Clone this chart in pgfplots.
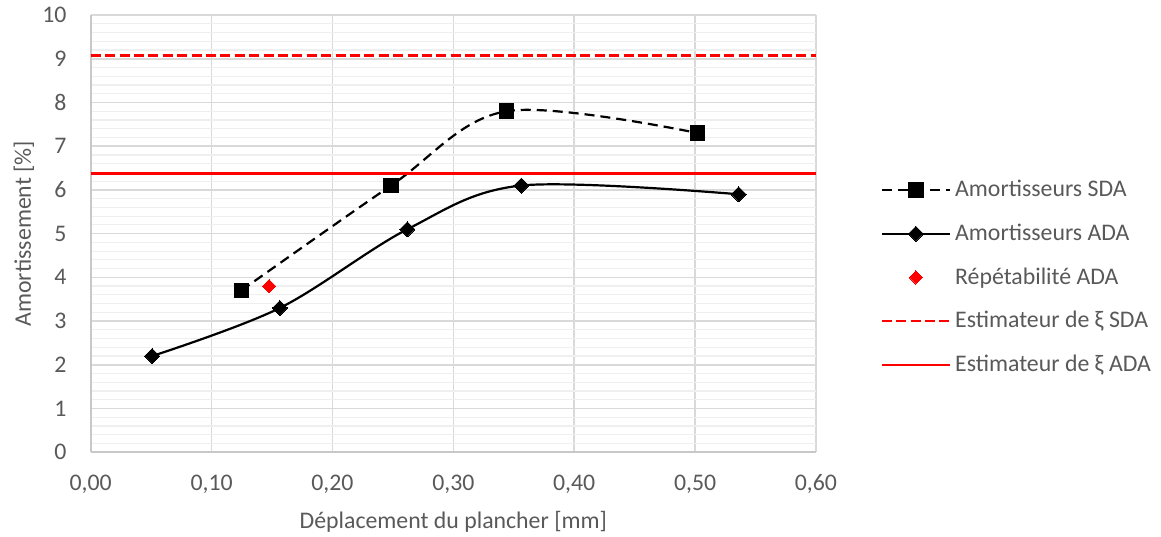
\documentclass[border=0pt]{standalone}
\usepackage{fontspec}
\setmainfont{Carlito}
\usepackage{pgfplots}
\pgfplotsset{compat=1.18}
\definecolor{txt}{HTML}{595959}
\definecolor{gridc}{HTML}{D9D9D9}
\definecolor{mgridc}{HTML}{EFEFEF}
\definecolor{axlc}{HTML}{C8C8C8}
\begin{document}
\begin{tikzpicture}[font=\fontsize{11.9pt}{14pt}\selectfont]
\begin{axis}[
  scale only axis, width=362.6pt, height=218.6pt,
  xmin=0, xmax=0.6, ymin=0, ymax=10,
  xtick={0,0.1,...,0.6}, ytick={0,1,...,10},
  minor y tick num=4,
  grid=both,
  major grid style={draw=gridc, line width=0.8pt},
  minor grid style={draw=mgridc, line width=0.6pt},
  axis line style={draw=axlc, line width=0.8pt},
  axis x line*=bottom, axis y line*=left,
  tick style={draw=none}, minor tick style={draw=none},
  ticklabel style={text=txt},
  /pgf/number format/assume math mode=true,
  xticklabel style={/pgf/number format/use comma, /pgf/number format/fixed, /pgf/number format/fixed zerofill, /pgf/number format/precision=2, yshift=-7.7pt},
  yticklabel style={xshift=-8.6pt},
  xlabel={Déplacement du plancher [mm]},
  ylabel={Amortissement [\%]},
  label style={text=txt},
  xlabel style={at={(axis description cs:0.5,-0.16)}, anchor=center},
  ylabel style={at={(axis description cs:-0.092,0.5)}, anchor=center},
  legend style={at={(1.0885,0.632)}, anchor=north west, draw=none, fill=none, text=txt, row sep=8.1pt, inner sep=0pt, nodes={inner sep=2pt}},
  legend cell align=left,
  legend image code/.code={\draw[mark repeat=2, mark phase=2] plot coordinates {(0pt,0pt) (17pt,0pt) (34pt,0pt)};},
  clip=false,
]
\coordinate (bl) at (rel axis cs:0,0);
\coordinate (tr) at (rel axis cs:1,1);
\addplot[black, line width=1.1pt, dash pattern=on 5pt off 3pt, smooth, tension=0.55, mark=square*, mark size=3.6pt, mark options={solid, line width=0pt}]
  coordinates {(0.1246,3.7) (0.2485,6.1) (0.3440,7.8) (0.5022,7.3)};
\addlegendentry{Amortisseurs SDA}
\addplot[black, line width=1.1pt, smooth, tension=0.55, mark=square*, mark size=2.65pt, mark options={rotate=45, line width=0pt}]
  coordinates {(0.0508,2.2) (0.1565,3.3) (0.2620,5.1) (0.3563,6.1) (0.5360,5.9)};
\addlegendentry{Amortisseurs ADA}
\addplot[only marks, red, mark=square*, mark size=2.35pt, mark options={rotate=45, line width=0pt}]
  coordinates {(0.1476,3.8)};
\addlegendentry{Répétabilité ADA}
\addplot[red, line width=1.3pt, dash pattern=on 5pt off 2.2pt]
  coordinates {(0,9.08) (0.6,9.08)};
\addlegendentry{Estimateur de ξ SDA}
\addplot[red, line width=1.3pt]
  coordinates {(0,6.37) (0.6,6.37)};
\addlegendentry{Estimateur de ξ ADA}
\end{axis}
\pgfresetboundingbox
\path[use as bounding box] ([xshift=-45.35pt,yshift=-42.35pt]bl) rectangle ([xshift=172.5pt,yshift=7.5pt]tr);
\end{tikzpicture}
\end{document}
